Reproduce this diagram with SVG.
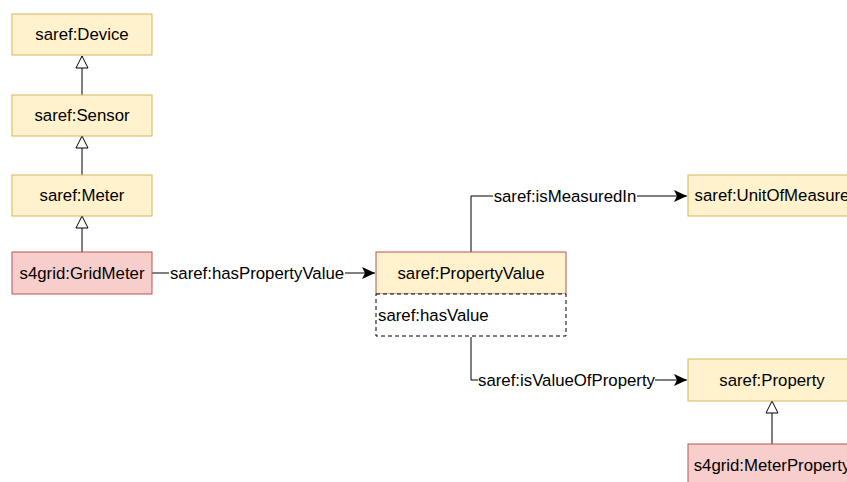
<svg xmlns="http://www.w3.org/2000/svg" width="847" height="482" viewBox="0 0 847 482">
<style>
.y{fill:#fff2cc;stroke:#d6b656;stroke-width:1}
.r{fill:#f8cecc;stroke:#b85450;stroke-width:1}
.t{font-family:"Liberation Sans",Arial,sans-serif;font-size:16.8px;fill:#000;text-anchor:middle;dominant-baseline:central}
.l{font-family:"Liberation Sans",Arial,sans-serif;font-size:16.8px;fill:#000;text-anchor:middle;dominant-baseline:central}
.e{fill:none;stroke:#000;stroke-width:1}
</style>
<defs>
<marker id="tri" viewBox="0 0 14 14" refX="13" refY="7" markerWidth="14" markerHeight="14" markerUnits="userSpaceOnUse" orient="auto">
<path d="M1,1 L13,7 L1,13 Z" fill="#fff" stroke="#000" stroke-width="1"/>
</marker>
<marker id="arr" viewBox="0 0 14 12" refX="13" refY="6" markerWidth="14" markerHeight="12" markerUnits="userSpaceOnUse" orient="auto">
<path d="M0,0 L13,6 L0,12 L3,6 Z" fill="#000"/>
</marker>
</defs>
<rect width="847" height="482" fill="#fff"/>
<g id="connectors">
<path class="e" d="M82,95 L82,56" marker-end="url(#tri)"/>
<path class="e" d="M82,175 L82,136" marker-end="url(#tri)"/>
<path class="e" d="M82,252 L82,216" marker-end="url(#tri)"/>
<path class="e" d="M772,444 L772,401" marker-end="url(#tri)"/>
<path class="e" d="M152,273 L375,273" marker-end="url(#arr)"/>
<rect x="169" y="264" width="176" height="18" fill="#fff"/>
<text class="l" x="257" y="273">saref:hasPropertyValue</text>
<path class="e" d="M471,252 L471,196 L687,196" marker-end="url(#arr)"/>
<rect x="493" y="187" width="144" height="18" fill="#fff"/>
<text class="l" x="565" y="196">saref:isMeasuredIn</text>
<path class="e" d="M471,337 L471,380 L687,380" marker-end="url(#arr)"/>
<rect x="478" y="371" width="177" height="18" fill="#fff"/>
<text class="l" x="566.5" y="380">saref:isValueOfProperty</text>
</g>
<g id="device"><rect class="y" x="12" y="14" width="140" height="41"/><text class="t" x="82" y="34.5">saref:Device</text></g>
<g id="sensor"><rect class="y" x="12" y="95" width="140" height="41"/><text class="t" x="82" y="115.5">saref:Sensor</text></g>
<g id="meter"><rect class="y" x="12" y="175" width="140" height="41"/><text class="t" x="82" y="195.5">saref:Meter</text></g>
<g id="gridmeter"><rect class="r" x="12" y="252" width="140" height="42"/><text class="t" x="82" y="273">s4grid:GridMeter</text></g>
<g id="propertyvalue"><rect class="y" x="376" y="252" width="190" height="42" style="stroke:#b85450"/><text class="t" x="471" y="273">saref:PropertyValue</text>
<rect x="376" y="294" width="190" height="42" fill="#fff" stroke="#000" stroke-dasharray="4,3"/>
<text class="t" x="378" y="315" style="text-anchor:start">saref:hasValue</text></g>
<g id="unitofmeasure"><rect class="y" x="688" y="175" width="168" height="41"/><text class="t" x="772" y="195.5">saref:UnitOfMeasure</text></g>
<g id="property"><rect class="y" x="688" y="359" width="168" height="42"/><text class="t" x="772" y="380">saref:Property</text></g>
<g id="meterproperty"><rect class="r" x="688" y="444" width="168" height="42"/><text class="t" x="772" y="465">s4grid:MeterProperty</text></g>
</svg>
